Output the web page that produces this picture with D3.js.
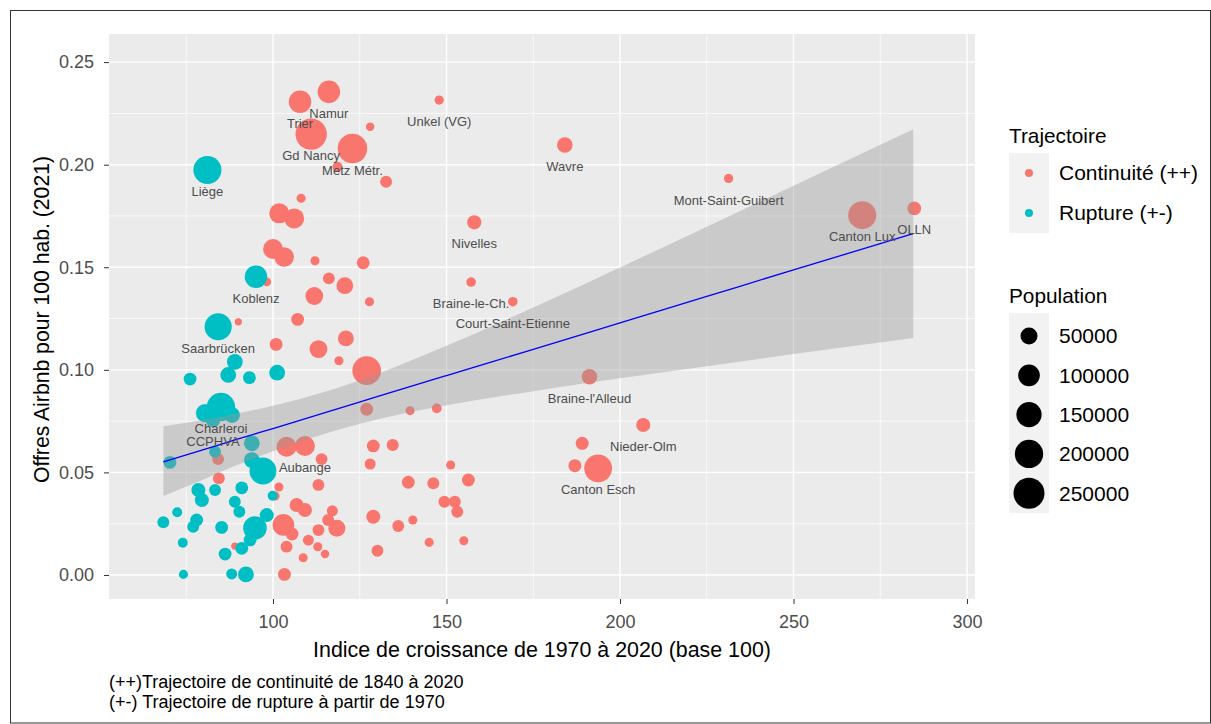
<!DOCTYPE html>
<html><head><meta charset="utf-8">
<script src="https://cdn.jsdelivr.net/npm/d3@7"></script>
<style>
body{margin:0;background:#fff}
svg{display:block}
text{font-family:"Liberation Sans",Arial,sans-serif}
</style>
</head><body>
<svg id="chart" width="1211" height="724"></svg>
<script>
// ---------- DATA ----------
// Continuité (++) points
const contNames = ["Trier","Namur","Unkel (VG)","Gd Nancy","Metz Métr.","","","","","","","","","","","","","","","","","","","","","","","","","",
  "Wavre","Nivelles","Braine-le-Ch.","Court-Saint-Etienne","Braine-l'Alleud","Nieder-Olm","","","Canton Esch","Mont-Saint-Guibert","Canton Lux","OLLN",
  "","Aubange","","","","","","","","","","","","","","","","","","","","","","","","","","","","","","","","","","","",""];
const contGrowth = [107.8,116.1,147.9,111.0,122.9,128.0,132.6,118.6,108.1,101.8,106.1,100.0,103.2,112.1,126.0,98.2,116.1,120.7,111.9,127.8,90.0,107.1,121.0,100.9,113.1,119.0,127.0,127.0,139.5,147.2,
  184.1,158.0,157.1,169.1,191.2,206.7,189.1,187.0,193.7,231.3,269.8,284.8,
  103.9,109.2,114.0,128.9,134.5,128.0,151.2,84.4,84.2,113.1,139.0,146.2,156.3,101.7,100.6,106.8,109.2,117.1,128.9,136.1,140.3,149.4,152.4,153.1,118.4,115.9,113.1,103.0,110.2,103.9,112.9,115.0,108.7,130.1,145.0,155.0,103.3,89.0,105.5];
const contAirbnb = [0.2307,0.2355,0.2315,0.2149,0.2079,0.2185,0.1917,0.1990,0.1836,0.1763,0.1738,0.1589,0.1550,0.1532,0.1522,0.1429,0.1446,0.1410,0.1360,0.1332,0.1234,0.1246,0.1153,0.1124,0.1101,0.1044,0.0996,0.0808,0.0801,0.0812,
  0.2096,0.1719,0.1428,0.1332,0.0966,0.0731,0.0642,0.0533,0.0520,0.1933,0.1754,0.1787,
  0.0625,0.0629,0.0565,0.0629,0.0634,0.0541,0.0536,0.0471,0.0565,0.0439,0.0452,0.0447,0.0463,0.0429,0.0385,0.0341,0.0317,0.0313,0.0284,0.0239,0.0268,0.0357,0.0357,0.0308,0.0228,0.0268,0.0219,0.0244,0.0170,0.0138,0.0138,0.0102,0.0084,0.0118,0.0159,0.0167,0.0003,0.0141,0.0200];
const contPop = [110000,111000,5000,257000,222000,3000,15000,7000,4500,80000,80000,78000,75000,4500,20000,4000,15000,48000,58000,4500,1000,20000,40000,20000,58000,4500,205000,20000,4500,6500,
  38000,28000,6000,6000,38000,28000,21000,21000,190000,5000,195000,25000,
  80000,80000,15000,20000,16000,11000,4500,15000,15000,15000,20000,15000,20000,4500,4500,27000,27000,11000,27000,15000,4500,15000,15000,15000,50000,15000,15000,100000,11000,15000,4500,3000,4500,15000,4500,4500,20000,1000,20000];

// Rupture (+-) points
const rupNames = ["Liège","Koblenz","Saarbrücken","","","","","","Charleroi","CCPHVA","","","","","","","","","","","","","","","","","","","","","","","","","","","",""];
const rupGrowth = [81.1,95.1,84.2,89.0,87.1,76.1,93.2,101.2,85.0,82.7,80.4,88.2,93.9,83.3,70.3,93.9,97.1,78.5,79.5,83.3,91.0,89.0,90.3,99.9,72.4,68.4,78.0,77.0,85.2,98.2,94.8,93.4,91.0,86.2,74.0,74.2,88.1,92.2];
const rupAirbnb = [0.1974,0.1454,0.1210,0.1039,0.0975,0.0955,0.0962,0.0986,0.0819,0.0755,0.0789,0.0780,0.0642,0.0601,0.0549,0.0560,0.0507,0.0414,0.0365,0.0414,0.0425,0.0357,0.0308,0.0386,0.0306,0.0257,0.0268,0.0235,0.0232,0.0292,0.0229,0.0171,0.0130,0.0102,0.0157,0.0003,0.0005,0.0003];
const rupPop = [195000,110000,180000,40000,40000,20000,20000,40000,201000,30000,60000,40000,40000,15000,20000,40000,175000,27000,27000,15000,20000,15000,15000,7000,7000,15000,20000,15000,20000,27000,125000,20000,20000,20000,7000,4500,11000,40000];

// Linear smooth (geom_smooth, method lm)
const smoothX  = [68.4, 80, 90, 100, 115, 130, 150, 175, 200, 225, 250, 284.5];
const smoothFit= [0.0551,0.0611,0.0663,0.0714,0.0791,0.0869,0.0972,0.1100,0.1229,0.1358,0.1487,0.1664];
const smoothLo = [0.0385,0.0466,0.0538,0.0603,0.0689,0.0758,0.0827,0.0896,0.0959,0.1018,0.1077,0.1155];
const smoothHi = [0.0725,0.0756,0.0788,0.0825,0.0893,0.0980,0.1117,0.1304,0.1499,0.1698,0.1897,0.2173];

// Axis ticks and legends
const xTicks = [100,150,200,250,300];
const xMinor = [75,125,175,225,275];
const yTicks = [0,0.05,0.10,0.15,0.20,0.25];
const yMinor = [0.025,0.075,0.125,0.175,0.225];
const trajLabels = ["Continuité (++)","Rupture (+-)"];
const trajColors = ["#F8766D","#00BFC4"];
const popBreaks = [50000,100000,150000,200000,250000];
const captionLines = ["(++)Trajectoire de continuité de 1840 à 2020","(+-) Trajectoire de rupture à partir de 1970"];

// ---------- CHART ----------
const svg = d3.select("#chart");
const P = {l:109, r:975, t:34, b:599};
const x = d3.scaleLinear().domain([52.74, 302.3]).range([P.l, P.r]);
const y = d3.scaleLinear().domain([-0.0117, 0.2637]).range([P.b, P.t]);
const rScale = d3.scaleSqrt().domain([50000, 250000]).range([8.5, 15.5]);
const color = d3.scaleOrdinal().domain(["C","R"]).range(trajColors);

svg.append("rect").attr("x",0).attr("y",0).attr("width",1211).attr("height",724).attr("fill","#fff");
svg.append("rect").attr("x",10.5).attr("y",10.5).attr("width",1200).attr("height",712.5)
  .attr("fill","none").attr("stroke","#333").attr("stroke-width",1);

// panel
svg.append("rect").attr("x",P.l).attr("y",P.t).attr("width",P.r-P.l).attr("height",P.b-P.t).attr("fill","#EBEBEB");
const grid = svg.append("g");
grid.selectAll(".xm").data(xMinor).join("line").attr("x1",d=>x(d)).attr("x2",d=>x(d)).attr("y1",P.t).attr("y2",P.b).attr("stroke","#fff").attr("stroke-width",0.7);
grid.selectAll(".ym").data(yMinor).join("line").attr("y1",d=>y(d)).attr("y2",d=>y(d)).attr("x1",P.l).attr("x2",P.r).attr("stroke","#fff").attr("stroke-width",0.7);
grid.selectAll(".xM").data(xTicks).join("line").attr("x1",d=>x(d)).attr("x2",d=>x(d)).attr("y1",P.t).attr("y2",P.b).attr("stroke","#fff").attr("stroke-width",1.4);
grid.selectAll(".yM").data(yTicks).join("line").attr("y1",d=>y(d)).attr("y2",d=>y(d)).attr("x1",P.l).attr("x2",P.r).attr("stroke","#fff").attr("stroke-width",1.4);

// points
const pts = [];
contGrowth.forEach((g,i)=>pts.push({name:contNames[i]||"",g:g,a:contAirbnb[i],p:contPop[i],t:"C"}));
rupGrowth.forEach((g,i)=>pts.push({name:rupNames[i]||"",g:g,a:rupAirbnb[i],p:rupPop[i],t:"R"}));
svg.append("g").selectAll("circle").data(pts).join("circle")
  .attr("cx",d=>x(d.g)).attr("cy",d=>y(d.a)).attr("r",d=>rScale(d.p))
  .attr("fill",d=>color(d.t));

// smooth ribbon + line
const sm = smoothX.map((v,i)=>({x:v,f:smoothFit[i],lo:smoothLo[i],hi:smoothHi[i]}));
svg.append("path").datum(sm)
  .attr("d", d3.area().x(d=>x(d.x)).y0(d=>y(d.lo)).y1(d=>y(d.hi)).curve(d3.curveMonotoneX))
  .attr("fill","#999999").attr("fill-opacity",0.4);
svg.append("path").datum(sm)
  .attr("d", d3.line().x(d=>x(d.x)).y(d=>y(d.f)).curve(d3.curveMonotoneX))
  .attr("fill","none").attr("stroke","#0000FF").attr("stroke-width",1.3);

// labels
svg.append("g").selectAll("text").data(pts.filter(d=>d.name)).join("text")
  .attr("x",d=>x(d.g)).attr("y",d=>y(d.a-0.0105)).attr("dy","0.35em")
  .attr("text-anchor","middle").attr("font-size",13).attr("fill","#4D4D4D")
  .text(d=>d.name);

// axes
const xAxis = svg.append("g").attr("transform",`translate(0,${P.b})`)
  .call(d3.axisBottom(x).tickValues(xTicks).tickSize(5).tickPadding(11).tickFormat(d3.format("d")));
const yAxis = svg.append("g").attr("transform",`translate(${P.l},0)`)
  .call(d3.axisLeft(y).tickValues(yTicks).tickSize(5).tickPadding(10).tickFormat(d3.format(".2f")));
[xAxis,yAxis].forEach(a=>{
  a.select(".domain").remove();
  a.selectAll(".tick line").attr("stroke","#333").attr("stroke-width",1);
  a.selectAll(".tick text").attr("fill","#4D4D4D").attr("font-size",18)
    .attr("font-family","'Liberation Sans',Arial,sans-serif");
});

// axis titles
svg.append("text").attr("x",(P.l+P.r)/2).attr("y",657).attr("text-anchor","middle")
  .attr("font-size",21.4).attr("fill","#000").text("Indice de croissance de 1970 à 2020 (base 100)");
svg.append("text").attr("transform",`translate(49,${(P.t+P.b)/2 + 3}) rotate(-90)`).attr("text-anchor","middle")
  .attr("font-size",21.2).attr("fill","#000").text("Offres Airbnb pour 100 hab. (2021)");

// caption
svg.append("g").selectAll("text").data(captionLines).join("text")
  .attr("x",P.l).attr("y",(d,i)=>688+i*19.5).attr("font-size",18).attr("fill","#000").text(d=>d);

// legend: Trajectoire
const lg = svg.append("g");
lg.append("text").attr("x",1009).attr("y",143).attr("font-size",20.8).attr("fill","#000").text("Trajectoire");
lg.append("rect").attr("x",1009).attr("y",153).attr("width",40).attr("height",80).attr("fill","#F2F2F2");
const trajKeys = lg.selectAll(".tk").data(trajLabels).join("g").attr("transform",(d,i)=>`translate(1029,${173+i*40})`);
trajKeys.append("circle").attr("r",4).attr("fill",(d,i)=>trajColors[i]);
trajKeys.append("text").attr("x",30).attr("dy","0.35em").attr("font-size",21).attr("fill","#000").text(d=>d);

// legend: Population
lg.append("text").attr("x",1009).attr("y",303).attr("font-size",20.8).attr("fill","#000").text("Population");
lg.append("rect").attr("x",1009).attr("y",313).attr("width",40).attr("height",200).attr("fill","#F2F2F2");
const popKeys = lg.selectAll(".pk").data(popBreaks).join("g").attr("transform",(d,i)=>`translate(1029,${336+i*39.3})`);
popKeys.append("circle").attr("r",d=>rScale(d)).attr("fill","#000");
popKeys.append("text").attr("x",30).attr("dy","0.35em").attr("font-size",21).attr("fill","#000").text(d=>d);
</script>
</body></html>
